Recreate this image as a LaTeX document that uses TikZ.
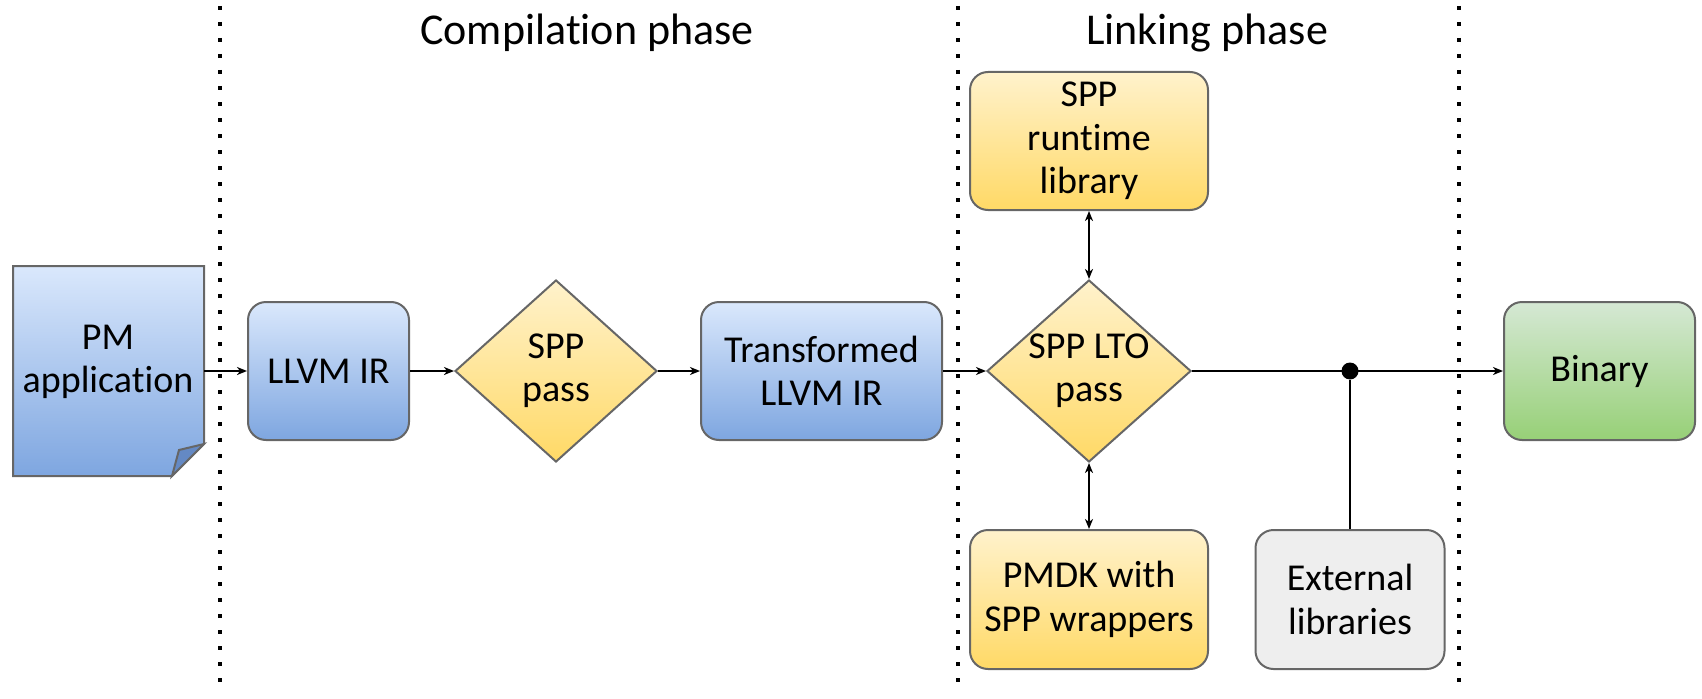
\documentclass[tikz,border=0pt]{standalone}
\usepackage{fontspec}
\setmainfont[Ligatures=NoCommon]{Carlito}
\usetikzlibrary{shapes.geometric,arrows.meta}

\definecolor{BlueTop}{HTML}{DAE8FC}
\definecolor{BlueBottom}{HTML}{7EA6E0}
\definecolor{GoldTop}{HTML}{FFF2CC}
\definecolor{GoldBottom}{HTML}{FFD966}
\definecolor{GreenTop}{HTML}{D5E8D4}
\definecolor{GreenBottom}{HTML}{97D077}
\definecolor{LibGray}{HTML}{EEEEEE}
\definecolor{EdgeGray}{HTML}{666666}
\definecolor{FoldBlue}{HTML}{6489C4}

\tikzset{
    boxfont/.style={font=\fontsize{19}{21.7}\selectfont},
    box/.style={draw=EdgeGray, line width=1pt, rounded corners=9pt, align=center, inner sep=0pt, boxfont},
    bluebox/.style={box, top color=BlueTop, bottom color=BlueBottom},
    goldbox/.style={box, top color=GoldTop, bottom color=GoldBottom},
    greenbox/.style={box, top color=GreenTop, bottom color=GreenBottom},
    graybox/.style={box, fill=LibGray},
    decision/.style={diamond, draw=EdgeGray, line width=1pt, top color=GoldTop, bottom color=GoldBottom, inner sep=0pt},
    flow/.style={line width=1pt, -{Stealth[length=5pt,width=4pt,inset=1.5pt]}},
    twoway/.style={line width=1pt, {Stealth[length=5pt,width=4pt,inset=1.5pt]}-{Stealth[length=5pt,width=4pt,inset=1.5pt]}},
    phaseline/.style={line width=2pt, dash pattern=on 2pt off 6pt},
}

\begin{document}
\begin{tikzpicture}[x=0.5pt, y=0.5pt]
        \useasboundingbox (0,0) rectangle (1702,698);

        % phase separators
        \draw[phaseline] (220,692) -- (220,15);
        \draw[phaseline] (958,692) -- (958,15);
        \draw[phaseline] (1459,692) -- (1459,15);

        \node[font=\fontsize{22}{26}\selectfont] (compile) at (587,665) {Compilation phase};
        \node[font=\fontsize{22}{26}\selectfont] (link) at (1207,665) {Linking phase};

        % source document
        \draw[draw=EdgeGray, line width=1pt, top color=BlueTop, bottom color=BlueBottom] (13,432) -- (204,432) -- (204,254) -- (172,222) -- (13,222) -- cycle;
        \draw[draw=EdgeGray, line width=1pt, fill=FoldBlue] (172,222) -- (179,248) -- (204,254) -- cycle;
        \node[boxfont, align=center] (app) at (108,336) {PM\\application};
        \coordinate (appedge) at (204,327);

        \node[bluebox, minimum width=80.5pt, minimum height=69pt] (llvm) at (328.5,327) {LLVM IR};
        \node[decision, minimum width=101pt, minimum height=91pt, label={[boxfont, align=center]center:SPP\\pass}] (spp) at (556,327) {};
        \node[bluebox, minimum width=120.5pt, minimum height=69pt] (trans) at (821.5,327) {Transformed\\LLVM IR};
        \node[decision, minimum width=102pt, minimum height=91pt, label={[boxfont, align=center]center:SPP LTO\\pass}] (lto) at (1089,327) {};
        \node[goldbox, minimum width=119pt, minimum height=69pt] (runtime) at (1089,557) {SPP\\runtime\\library};
        \node[goldbox, minimum width=119pt, minimum height=69.5pt] (pmdk) at (1089,98.5) {PMDK with\\SPP wrappers};
        \node[graybox, minimum width=94.5pt, minimum height=69.5pt] (ext) at (1350,98.5) {External\\libraries};
        \node[greenbox, minimum width=95.5pt, minimum height=69pt] (bin) at (1599.5,327) {Binary};
        \node[circle, fill, inner sep=0pt, minimum size=8.5pt] (join) at (1350,327) {};

        \draw[flow] (appedge) -- (llvm);
        \draw[flow] (llvm) -- (spp);
        \draw[flow] (spp) -- (trans);
        \draw[flow] (trans) -- (lto);
        \draw[flow] (lto) -- (bin);
        \draw[twoway] (lto) -- (runtime);
        \draw[twoway] (lto) -- (pmdk);
        \draw[line width=1pt] (ext) -- (join);
\end{tikzpicture}
\end{document}
